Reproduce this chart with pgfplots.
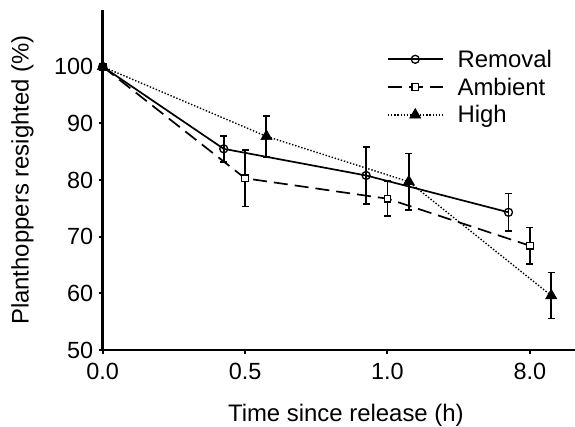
\documentclass[border=0pt]{standalone}
\usepackage{fontspec}
\setmainfont{Liberation Sans}
\usepackage{pgfplots}
\pgfplotsset{compat=1.18}

\newcommand{\bigfont}{\fontsize{24}{28}\selectfont}
\newcommand{\tickfont}{\fontsize{23.5}{27}\selectfont}

\begin{document}
\begin{tikzpicture}
\begin{axis}[
    width=472.3bp, height=340bp,
    scale only axis,
    clip=false,
    xmin=0, xmax=3.317,
    ymin=50, ymax=110,
    axis x line=bottom, axis y line=left,
    axis line style={-, line width=2.5bp},
    tick align=outside,
    major tick length=4bp,
    tick style={line width=2bp, black},
    xtick={0,1,2,3},
    xticklabels={0.0,0.5,1.0,8.0},
    ytick={50,60,70,80,90,100},
    /pgf/number format/assume math mode=true,
    ticklabel style={font=\tickfont},
    xticklabel style={yshift=-6bp},
    yticklabel style={xshift=-2bp},
    xlabel={Time since release (h)},
    ylabel={Planthoppers resighted (\%)},
    label style={font=\bigfont},
    xlabel style={at={(axis description cs:0.5,0)}, anchor=base, yshift=-71bp, xshift=7bp},
    ylabel style={at={(axis description cs:-0.194,0.5)}, anchor=north, inner sep=0pt},
    legend style={draw=none, fill=none, font=\bigfont,
        at={(axis description cs:0.595,0.895)}, anchor=north west,
        row sep=5bp, column sep=12bp, cells={anchor=west}},
    legend image code/.code={
        \draw[mark repeat=2, mark phase=2, #1] plot coordinates {(0bp,0bp) (27.5bp,0bp) (55bp,0bp)};
    },
    error bars/error bar style={line width=1.9bp, solid, black},
    error bars/error mark options={rotate=90, mark size=3.5bp, line width=1.6bp, solid, black},
]
\addplot[black, line width=1.7bp, mark=o, mark size=4bp, mark options={fill=white, solid, line width=1.3bp},
    error bars/.cd, y dir=both, y explicit]
    coordinates {(0,100) +- (0,0) (0.85,85.5) +- (0,2.3) (1.85,80.8) +- (0,5.0) (2.85,74.3) +- (0,3.3)};
\addlegendentry{Removal}
\addplot[black, line width=1.7bp, dash pattern=on 14bp off 7bp, mark=square*, mark size=3.3bp, mark options={fill=white, solid, line width=1.3bp},
    error bars/.cd, y dir=both, y explicit]
    coordinates {(0,100) +- (0,0) (1.0,80.3) +- (0,5.0) (2.0,76.7) +- (0,3.1) (3.0,68.4) +- (0,3.2)};
\addlegendentry{Ambient}
\addplot[black, line width=1.4bp, dash pattern=on 1.4bp off 1.8bp, mark=triangle*, mark size=6.5bp, mark options={fill=black, solid, line width=0.5bp},
    error bars/.cd, y dir=both, y explicit]
    coordinates {(0,100) +- (0,0) (1.15,87.7) +- (0,3.6) (2.15,79.7) +- (0,5.0) (3.15,59.6) +- (0,4.05)};
\addlegendentry{High}
\coordinate (sw) at (rel axis cs:0,0);
\coordinate (ne) at (rel axis cs:1,1);
\end{axis}
\pgfresetboundingbox
\path[use as bounding box] ([xshift=-102.7bp,yshift=-77bp]sw) rectangle ([yshift=10bp]ne);
\end{tikzpicture}
\end{document}
